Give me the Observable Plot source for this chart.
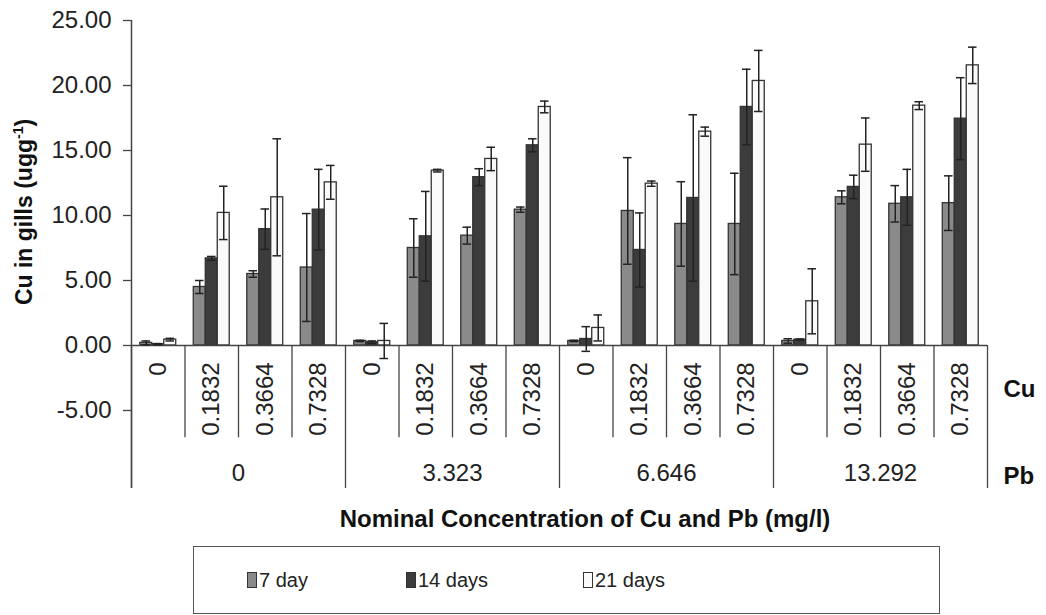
<!DOCTYPE html>
<html><head><meta charset="utf-8">
<script src="https://cdn.jsdelivr.net/npm/d3@7"></script>
<script src="https://cdn.jsdelivr.net/npm/@observablehq/plot@0.6"></script>
<style>
body{margin:0;background:#fff;font-family:"Liberation Sans",Arial,sans-serif;}
#chart svg{display:block;}
#legend{position:relative;margin-left:193px;margin-top:6px;width:745px;height:66px;border:1.5px solid #555;}
.item{position:absolute;top:0;height:100%;display:flex;align-items:center;font-size:20px;color:#222;}
.sw{width:8px;height:14px;border:1px solid #333;margin-right:2px;}
</style></head><body>
<div id="chart"></div>
<div id="legend"></div>
<script>
// ---- data ----
const pbLevels = ["0", "3.323", "6.646", "13.292"];
const cuLevels = ["0", "0.1832", "0.3664", "0.7328"];
const seriesNames = ["7 day", "14 days", "21 days"];
const yTicks = [-5, 0, 5, 10, 15, 20, 25];
const day7     = [0.2, 4.5, 5.5, 6.0,   0.35, 7.5, 8.45, 10.45,  0.35, 10.35, 9.35, 9.35,  0.35, 11.4, 10.9, 10.95];
const day7Err  = [0.15, 0.5, 0.25, 4.15, 0.05, 2.25, 0.65, 0.2,  0.05, 4.1, 3.25, 3.9,    0.17, 0.5, 1.4, 2.1];
const day14    = [0.1, 6.7, 8.95, 10.45, 0.25, 8.4, 12.95, 15.4, 0.5, 7.35, 11.35, 18.35, 0.45, 12.2, 11.4, 17.45];
const day14Err = [0.05, 0.15, 1.55, 3.1, 0.1, 3.45, 0.65, 0.5,  0.95, 2.85, 6.4, 2.9,    0.05, 0.9, 2.15, 3.15];
const day21    = [0.45, 10.2, 11.4, 12.55, 0.35, 13.45, 14.35, 18.35, 1.35, 12.45, 16.45, 20.35, 3.4, 15.45, 18.45, 21.55];
const day21Err = [0.1, 2.05, 4.5, 1.3,  1.35, 0.1, 0.9, 0.45,   1.0, 0.2, 0.35, 2.35,    2.5, 2.05, 0.3, 1.4];

const seriesColors = ["#8a8a8a", "#3c3c3c", "#fafafa"];
const means = [day7, day14, day21];
const errs = [day7Err, day14Err, day21Err];

// category index i occupies [i, i+1] on the x scale
const categories = pbLevels.flatMap((pb, j) => cuLevels.map((cu, k) => ({pb, cu, i: j * cuLevels.length + k})));
const table = [];
categories.forEach(c => seriesNames.forEach((s, si) =>
  table.push({...c, series: s, si, value: means[si][c.i], err: errs[si][c.i]})));

const nCat = categories.length;
const BAR = 0.224, GAP = (1 - 3 * BAR) / 2, CAP = 0.08;
const xLeft = d => d.i + GAP + d.si * BAR;
const xMid = d => xLeft(d) + BAR / 2;
const cuBounds = categories.filter(c => c.i % cuLevels.length !== 0).map(c => c.i);
const pbBounds = pbLevels.map((_, j) => j * cuLevels.length).concat(nCat);
const pbGroups = pbLevels.map((pb, j) => ({pb, x: j * cuLevels.length + cuLevels.length / 2}));

const font = '"Liberation Sans", Arial, sans-serif';
const chart = Plot.plot({
  width: 1046, height: 540,
  marginLeft: 131, marginRight: 59, marginTop: 20, marginBottom: 52,
  style: {fontFamily: font, fontSize: "24px", color: "#222", background: "#fff"},
  x: {domain: [0, nCat], axis: null},
  y: {domain: [-11, 25], axis: null},
  color: {domain: seriesNames, range: seriesColors},
  marks: [
    Plot.axisY({ticks: yTicks, tickFormat: d => d.toFixed(2), tickSize: 8, tickPadding: 12,
                fontSize: 24, label: null, stroke: "#444", strokeWidth: 1.3}),
    Plot.ruleX([0], {y1: -11, y2: 25, stroke: "#444", strokeWidth: 1.5}),
    Plot.ruleX(cuBounds, {y1: 0, y2: -7.1, stroke: "#444", strokeWidth: 1.3}),
    Plot.ruleX(pbBounds, {y1: 0, y2: -11, stroke: "#444", strokeWidth: 1.3}),
    Plot.rectY(table, {x1: xLeft, x2: d => xLeft(d) + BAR, y1: 0, y2: "value", fill: "series",
                       stroke: "#333", strokeWidth: 1.3}),
    Plot.ruleY([0], {x1: 0, x2: nCat, stroke: "#444", strokeWidth: 1.5}),
    Plot.ruleX(table, {x: xMid, y1: d => d.value - d.err, y2: d => d.value + d.err, stroke: "#222", strokeWidth: 1.5}),
    Plot.ruleY(table, {y: d => d.value + d.err, x1: d => xMid(d) - CAP, x2: d => xMid(d) + CAP, stroke: "#222", strokeWidth: 1.5}),
    Plot.ruleY(table, {y: d => d.value - d.err, x1: d => xMid(d) - CAP, x2: d => xMid(d) + CAP, stroke: "#222", strokeWidth: 1.5}),
    Plot.text(categories, {x: d => d.i + 0.5, y: -1.3, text: "cu", rotate: -90, textAnchor: "end", fontSize: 24, fill: "#222"}),
    Plot.text(pbGroups, {x: "x", y: -9.85, text: "pb", fontSize: 24, fill: "#222"}),
    Plot.text(["Cu"], {x: nCat, y: -3.4, dx: 16, textAnchor: "start", fontWeight: "bold", fontSize: 24, fill: "#111"}),
    Plot.text(["Pb"], {x: nCat, y: -10.1, dx: 16, textAnchor: "start", fontWeight: "bold", fontSize: 24, fill: "#111"})
  ]
});

const svg = d3.select(chart);
// y title with superscript
const yt = svg.append("text")
  .attr("transform", "translate(32,212) rotate(-90)")
  .attr("text-anchor", "middle")
  .attr("font-family", font).attr("font-weight", "bold").attr("font-size", 23).attr("fill", "#111");
yt.append("tspan").text("Cu in gills (ugg");
yt.append("tspan").attr("font-size", 14).attr("dy", -9).text("-1");
yt.append("tspan").attr("dy", 9).text(")");
// x title
svg.append("text")
  .attr("x", 585).attr("y", 527)
  .attr("text-anchor", "middle")
  .attr("font-family", font).attr("font-weight", "bold").attr("font-size", 24).attr("fill", "#111")
  .text("Nominal Concentration of Cu and Pb (mg/l)");

document.getElementById("chart").appendChild(chart);

// legend
const legend = d3.select("#legend");
const itemLeft = [53, 212, 389];
seriesNames.forEach((s, si) => {
  const it = legend.append("div").attr("class", "item").style("left", itemLeft[si] + "px");
  it.append("div").attr("class", "sw").style("background", seriesColors[si]);
  it.append("span").text(s);
});
</script>
</body></html>
